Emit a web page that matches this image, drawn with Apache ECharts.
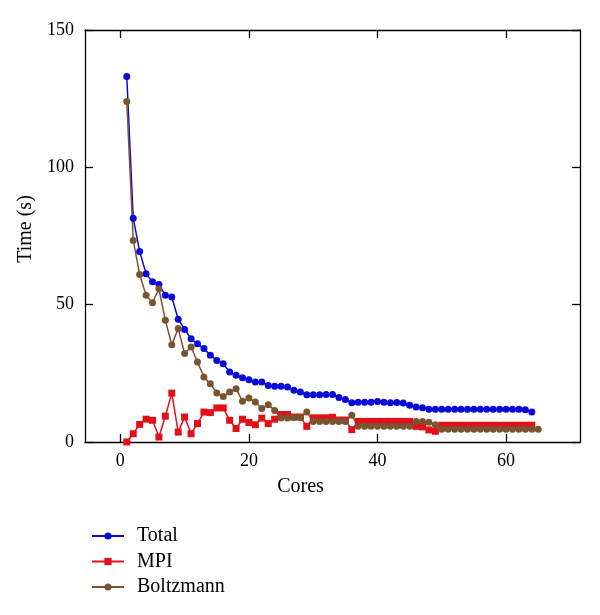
<!DOCTYPE html>
<html>
<head>
<meta charset="utf-8">
<script src="https://cdn.jsdelivr.net/npm/echarts@6/dist/echarts.min.js"></script>
<style>html,body{margin:0;padding:0;background:#fff;}#c{width:600px;height:615px;}</style>
</head>
<body>
<div id="c"></div>
<script>
const cores = [1,2,3,4,5,6,7,8,9,10,11,12,13,14,15,16,17,18,19,20,21,22,23,24,25,26,27,28,29,30,31,32,33,34,35,36,37,38,39,40,41,42,43,44,45,46,47,48,49,50,51,52,53,54,55,56,57,58,59,60,61,62,63,64,65];
const totalTime = [133.1,81.5,69.4,61.3,58.3,57.3,53.4,52.8,44.7,41.0,37.6,35.8,34.0,31.6,29.7,28.5,25.5,24.3,23.4,22.7,21.8,21.8,20.6,20.3,20.3,20.0,18.8,18.2,17.2,17.2,17.2,17.3,17.3,16.2,15.5,14.3,14.5,14.5,14.5,14.7,14.5,14.3,14.4,14.2,13.4,12.7,12.5,11.9,11.9,11.9,11.9,11.9,11.9,11.9,11.9,11.9,11.9,11.9,11.9,11.9,11.9,11.9,11.7,10.9];
const mpiTime = [0,3.0,6.4,8.3,7.9,1.8,9.4,17.8,3.6,9.1,3.0,6.7,10.9,10.7,12.4,12.4,7.9,4.9,8.3,7.1,6.3,8.7,6.7,8.3,10.0,10.0,9.1,9.1,5.7,8.8,8.8,8.8,9.0,8.0,8.0,4.5,7.5,7.5,7.5,7.5,7.5,7.5,7.5,7.5,7.5,5.7,5.5,4.4,3.9,6.1,6.1,6.1,6.1,6.1,6.1,6.1,6.1,6.1,6.1,6.1,6.1,6.1,6.1,6.1];
const boltzmannTime = [124.0,73.4,61.0,53.4,50.7,55.8,44.3,35.4,41.3,32.2,34.6,29.1,23.7,21.2,17.8,16.6,18.2,19.4,14.8,16.0,14.6,12.2,13.6,11.5,8.7,8.7,8.9,8.9,10.9,7.5,7.5,7.5,7.5,7.5,7.5,9.7,5.7,5.7,5.7,5.7,5.7,5.7,5.7,5.7,5.7,7.5,7.5,7.2,6.3,4.6,4.6,4.6,4.6,4.6,4.6,4.6,4.6,4.6,4.6,4.6,4.6,4.6,4.6,4.6,4.6];
const xTicks = [0,20,40,60];
const yTicks = [0,50,100,150];
const seriesNames = ['Total','MPI','Boltzmann'];

const pairs = ys => ys.map((v,i)=>[cores[i], v]);
const font = 'Liberation Serif';
const axisLine = {show:true, onZero:false, lineStyle:{color:'#000', width:1.3}};
const tickIn = {show:true, inside:true, length:8, lineStyle:{color:'#000', width:1.3}};

const chart = echarts.init(document.getElementById('c'));
chart.setOption({
  animation:false,
  backgroundColor:'#fff',
  textStyle:{fontFamily:font},
  grid:{left:85, right:20, top:30, bottom:173, containLabel:false},
  legend:{
    orient:'vertical', left:86, top:521, itemWidth:32, itemHeight:9, itemGap:5.5,
    data:seriesNames,
    textStyle:{fontFamily:font, fontSize:20, color:'#000', padding:[0,0,0,8]}
  },
  xAxis:[{
    type:'value', min:-5.5, max:71.5, position:'bottom',
    axisLine:axisLine,
    axisTick:Object.assign({customValues:xTicks}, tickIn),
    axisLabel:{customValues:xTicks, fontFamily:font, fontSize:18, color:'#000', margin:10},
    splitLine:{show:false},
    name:'Cores', nameLocation:'middle', nameGap:35,
    nameTextStyle:{fontFamily:font, fontSize:20, color:'#000', padding:[0,64,0,0]}
  },{
    type:'value', min:-5.5, max:71.5, position:'top',
    axisLine:axisLine,
    axisTick:Object.assign({customValues:xTicks}, tickIn),
    axisLabel:{show:false}, splitLine:{show:false}
  }],
  yAxis:[{
    type:'value', min:0, max:150, interval:50, position:'left',
    axisLine:axisLine, axisTick:tickIn,
    axisLabel:{fontFamily:font, fontSize:18, color:'#000', margin:11},
    splitLine:{show:false},
    name:'Time (s)', nameLocation:'middle', nameGap:45, nameRotate:90,
    nameTextStyle:{fontFamily:font, fontSize:20, color:'#000', padding:[0,0,0,14]}
  },{
    type:'value', min:0, max:150, interval:50, position:'right',
    axisLine:axisLine, axisTick:tickIn,
    axisLabel:{show:false}, splitLine:{show:false}
  }],
  series:[
    {name:'Total', type:'line', data:pairs(totalTime), symbol:'circle', symbolSize:7,
     color:'#0a0ad6', lineStyle:{width:1.5}, itemStyle:{color:'#0a0ad6'}},
    {name:'MPI', type:'line', data:pairs(mpiTime), symbol:'rect', symbolSize:7,
     color:'#e3101a', lineStyle:{width:1.5}, itemStyle:{color:'#e3101a'}},
    {name:'Boltzmann', type:'line', data:pairs(boltzmannTime), symbol:'circle', symbolSize:7,
     color:'#7a5431', lineStyle:{width:1.5}, itemStyle:{color:'#7a5431'}}
  ]
});
</script>
</body>
</html>
